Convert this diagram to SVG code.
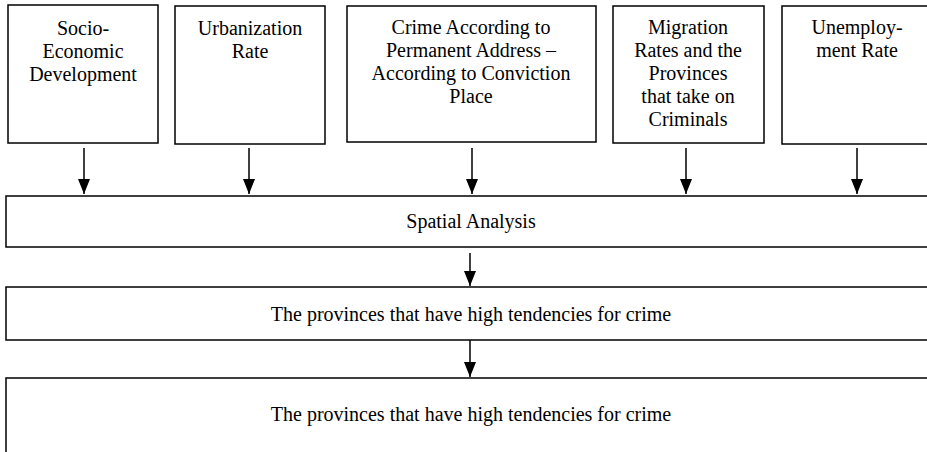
<svg xmlns="http://www.w3.org/2000/svg" width="927" height="452" viewBox="0 0 927 452">
<defs>
<style>
.box{fill:#fff;stroke:#000;stroke-width:1.5}
.t{font-family:"Liberation Serif","Times New Roman",serif;font-size:20px;fill:#000;text-anchor:middle}
.c{stroke:#000;stroke-width:1.5;fill:none;marker-end:url(#ah)}
</style>
<marker id="ah" viewBox="0 0 15 12" refX="15" refY="6" markerWidth="15" markerHeight="12" markerUnits="userSpaceOnUse" orient="auto">
<path d="M0,0 L15,6 L0,12 Z" fill="#000"/>
</marker>
</defs>
<rect width="927" height="452" fill="#fff"/>
<g id="n1"><rect class="box" x="8" y="5" width="150" height="138"/>
<text class="t" x="83" y="35">Socio-</text><text class="t" x="83" y="58">Economic</text><text class="t" x="83" y="81">Development</text></g>
<g id="n2"><rect class="box" x="175" y="6" width="150" height="138"/>
<text class="t" x="250" y="35">Urbanization</text><text class="t" x="250" y="58">Rate</text></g>
<g id="n3"><rect class="box" x="347" y="6" width="249" height="136"/>
<text class="t" x="471" y="34">Crime According to</text><text class="t" x="471" y="57">Permanent Address –</text><text class="t" x="471" y="80">According to Conviction</text><text class="t" x="471" y="103">Place</text></g>
<g id="n4"><rect class="box" x="613" y="6" width="151" height="137"/>
<text class="t" x="688" y="34">Migration</text><text class="t" x="688" y="57">Rates and the</text><text class="t" x="688" y="80">Provinces</text><text class="t" x="688" y="103">that take on</text><text class="t" x="688" y="126">Criminals</text></g>
<g id="n5"><rect class="box" x="782" y="6" width="160" height="138"/>
<text class="t" x="857" y="34">Unemploy-</text><text class="t" x="857" y="57">ment Rate</text></g>
<g id="n6"><rect class="box" x="6" y="196" width="940" height="51"/>
<text class="t" x="471" y="228">Spatial Analysis</text></g>
<g id="n7"><rect class="box" x="6" y="287" width="940" height="53"/>
<text class="t" x="471" y="321">The provinces that have high tendencies for crime</text></g>
<g id="n8"><rect class="box" x="6" y="378" width="940" height="90"/>
<text class="t" x="471" y="421">The provinces that have high tendencies for crime</text></g>
<g id="connectors">
<line class="c" x1="84" y1="148" x2="84" y2="194"/>
<line class="c" x1="249" y1="148" x2="249" y2="194"/>
<line class="c" x1="472" y1="148" x2="472" y2="194"/>
<line class="c" x1="686" y1="148" x2="686" y2="194"/>
<line class="c" x1="857" y1="148" x2="857" y2="194"/>
<line class="c" x1="470" y1="253" x2="470" y2="286"/>
<line class="c" x1="470" y1="340" x2="470" y2="377"/>
</g>
</svg>
